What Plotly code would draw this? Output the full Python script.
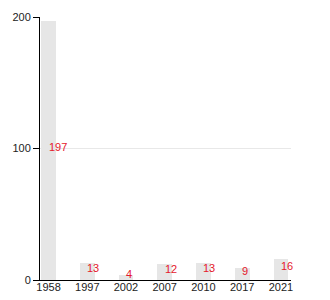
import plotly.graph_objects as go

years = ["1958", "1997", "2002", "2007", "2010", "2017", "2021"]
values = [197, 13, 4, 12, 13, 9, 16]

idx = list(range(len(years)))

fig = go.Figure()
fig.add_trace(go.Bar(
    x=idx, y=values, width=0.38,
    marker=dict(color="#e6e6e6", line=dict(width=0)),
    hoverinfo="skip",
))

for i, v in zip(idx, values):
    fig.add_annotation(
        x=i, y=v / 2, text=str(v), showarrow=False,
        xanchor="left", yanchor="middle", xshift=-2, yshift=3,
        font=dict(family="Liberation Sans, Arial, sans-serif", size=11, color="#e5172b"),
    )

fig.update_layout(
    width=330, height=300,
    margin=dict(l=40, r=39, t=17, b=20, autoexpand=False),
    paper_bgcolor="white", plot_bgcolor="white",
    showlegend=False,
    bargap=0,
    font=dict(family="Liberation Sans, Arial, sans-serif", size=11, color="#222"),
)
fig.update_xaxes(
    range=[-0.22, 6.26], tickmode="array", tickvals=idx, ticktext=years,
    showline=True, linecolor="black", linewidth=1, ticks="", showgrid=False,
    zeroline=False, fixedrange=True, automargin=False, ticklabelstandoff=-3,
)
fig.update_yaxes(
    range=[0, 200], tickvals=[0, 100, 200],
    showline=True, linecolor="black", linewidth=1,
    ticks="outside", ticklen=6, tickcolor="black",
    showgrid=True, gridcolor="#e8e8e8", gridwidth=1,
    zeroline=False, fixedrange=True, automargin=False,
)

fig.write_html("out.html")
